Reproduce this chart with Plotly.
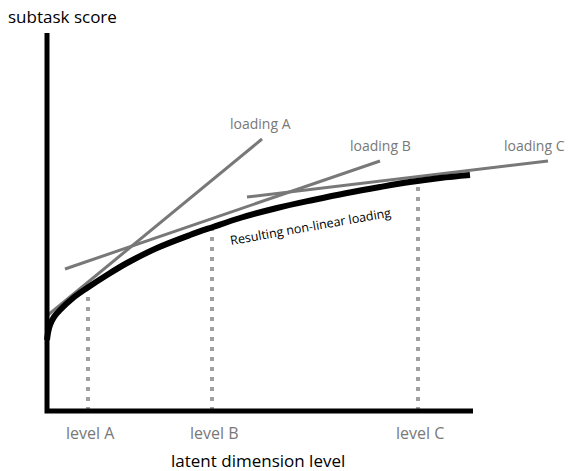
import plotly.graph_objects as go

# Data in diagram units (origin at axes corner)
curve_x = [0, 1, 3, 7, 13, 26, 40, 60, 80, 110, 143, 166, 193, 230, 266, 300, 333, 363, 393, 423]
curve_y = [71, 78, 86, 94, 101, 113, 123, 136, 148, 163, 176, 184, 193, 203, 211, 218, 224, 229, 233, 236]

loading_names = ["loading A", "loading B", "loading C"]
loading_x0 = [1, 18, 200]
loading_y0 = [96, 142, 214]
loading_x1 = [215, 333, 501]
loading_y1 = [272, 250, 250]

level_names = ["level A", "level B", "level C"]
level_x = [41, 165, 371]
level_top = [117, 183, 227]

x_axis_end = 426
y_axis_top = 378

fig = go.Figure()

gray_t = "#787878"
gray_d = "#a0a0a0"

# dotted level lines
for lx, lt in zip(level_x, level_top):
    fig.add_trace(go.Scatter(x=[lx, lx], y=[0, lt], mode="lines",
                             line=dict(color=gray_d, width=4, dash="4px,6px"),
                             hoverinfo="skip", showlegend=False))

# tangent lines
for x0, y0, x1, y1 in zip(loading_x0, loading_y0, loading_x1, loading_y1):
    fig.add_trace(go.Scatter(x=[x0, x1], y=[y0, y1], mode="lines",
                             line=dict(color=gray_t, width=3),
                             hoverinfo="skip", showlegend=False))

# curve
fig.add_trace(go.Scatter(x=curve_x, y=curve_y, mode="lines",
                         line=dict(color="black", width=6, shape="spline"),
                         hoverinfo="skip", showlegend=False))

# axes
fig.add_trace(go.Scatter(x=[0, 0, x_axis_end], y=[y_axis_top, 0, 0], mode="lines",
                         line=dict(color="black", width=5),
                         hoverinfo="skip", showlegend=False))

font = "Open Sans"
# loading labels
lab_pos = [(213, 288, "center"), (333, 266, "center"), (455, 266, "left")]
for name, (lx, ly, anc) in zip(loading_names, lab_pos):
    fig.add_annotation(x=lx, y=ly, text=name, showarrow=False, xanchor=anc,
                       font=dict(family=font, size=14, color=gray_t))

# level labels
for name, lx in zip(level_names, level_x):
    fig.add_annotation(x=lx + 2, y=-22, text=name, showarrow=False,
                       font=dict(family=font, size=16, color=gray_t))

fig.add_annotation(x=263, y=185, text="Resulting non-linear loading", showarrow=False,
                   textangle=-10, font=dict(family=font, size=12.5, color="black"))
fig.add_annotation(x=211, y=-49, text="latent dimension level", showarrow=False,
                   font=dict(family=font, size=17, color="black"))
fig.add_annotation(x=15, y=395, text="subtask score", showarrow=False,
                   font=dict(family=font, size=17, color="black"))

fig.update_layout(
    width=568, height=471,
    margin=dict(l=0, r=0, t=0, b=0),
    paper_bgcolor="white", plot_bgcolor="white",
    xaxis=dict(range=[-47, 521], visible=False, fixedrange=True),
    yaxis=dict(range=[-60, 411], visible=False, fixedrange=True),
)

fig.write_html("out.html", config={"displayModeBar": False},
               post_script="document.body.style.margin='0';document.body.style.overflow='hidden';")
